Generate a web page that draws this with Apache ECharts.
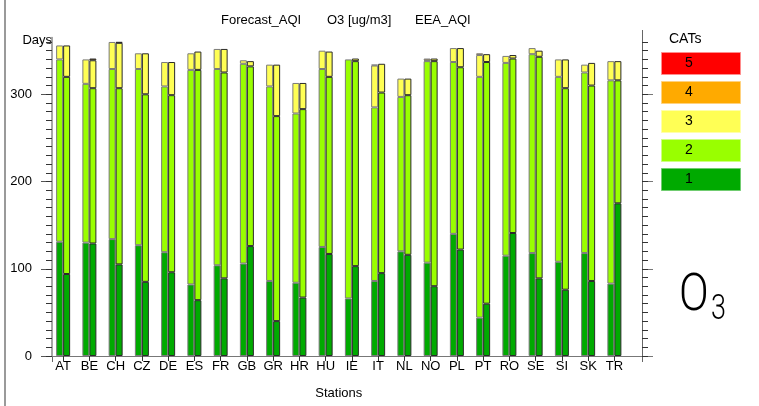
<!DOCTYPE html>
<html>
<head>
<meta charset="utf-8">
<script src="https://cdn.jsdelivr.net/npm/echarts@6/dist/echarts.min.js"></script>
<style>
html,body{margin:0;padding:0;background:#fff;}
#chart{width:759px;height:406px;}
</style>
</head>
<body>
<div id="chart"></div>
<script>
// ---- data ----
const stations = ['AT','BE','CH','CZ','DE','ES','FR','GB','GR','HR','HU','IE','IT','NL','NO','PL','PT','RO','SE','SI','SK','TR'];
// Forecast_AQI (left bar of each pair), days per category
const fcCat1 = [131,130,134,127,119, 82,104,106, 86, 84,125, 66, 86,120,107,140, 44,115,118,108,118, 83];
const fcCat2 = [209,182,195,202,190,246,225,229,223,194,204,274,199,177,231,197,276,221,228,212,207,233];
const fcCat3 = [ 16, 28, 31, 18, 28, 19, 23,  4, 25, 35, 21,  0, 48, 21,  1, 16, 25,  8,  7, 20,  9, 22];
const fcCat4 = [  0,  0,  0,  0,  0,  0,  0,  0,  0,  0,  0,  0,  1,  0,  2,  0,  2,  0,  0,  0,  0,  0];
const fcCat5 = [  0,  0,  0,  0,  0,  0,  0,  0,  0,  0,  0,  0,  0,  0,  0,  0,  0,  0,  0,  0,  0,  0];
// EEA_AQI (right bar of each pair)
const eeaCat1 = [ 94,129,105, 85, 96, 64, 89,126, 40, 67,117,103, 95,116, 80,122, 60,141, 89, 76, 86,175];
const eeaCat2 = [226,178,202,215,203,264,236,206,235,216,203,235,207,183,258,209,277,200,254,231,224,141];
const eeaCat3 = [ 36, 32, 52, 47, 38, 21, 27,  6, 59, 30, 29,  3, 33, 19,  3, 22,  9,  4,  7, 33, 26, 22];
const eeaCat4 = [  0,  2,  1,  0,  0,  0,  0,  0,  0,  0,  0,  0,  0,  0,  0,  0,  0,  0,  0,  0,  0,  0];
const eeaCat5 = [  0,  0,  0,  0,  0,  0,  0,  0,  0,  0,  0,  0,  0,  0,  0,  0,  0,  0,  0,  0,  0,  0];
const catNames = ['1','2','3','4','5'];
const yLabelTicks = [0,100,200,300];
const yMinorTicks = [0,10,20,30,40,50,60,70,80,90,100,110,120,130,140,150,160,170,180,190,200,210,220,230,240,250,260,270,280,290,300,310,320,330,340,350,360];
const titleParts = ['Forecast_AQI','O3 [ug/m3]','EEA_AQI'];

// ---- styles ----
const catColors = ['#00AA00','#99FF00','#FFFF55','#FFAA00','#FF0000'];
const catStroke = ['#70CC70','#CCFF80','#FFFFAA','#FFD27F','#FF8C8C'];
const FONT = 'Liberation Sans';

const fcCats = [fcCat1,fcCat2,fcCat3,fcCat4,fcCat5];
const eeaCats = [eeaCat1,eeaCat2,eeaCat3,eeaCat4,eeaCat5];

function mkSeries(name, stack, arr, color, border){
  return {
    type:'bar', name: name, stack: stack, xAxisIndex:0, yAxisIndex:0,
    data: arr.map(v => v === 0 ? null : v),
    barWidth:7, barGap:'0%',
    itemStyle:{color: color, borderColor: border, borderWidth:1},
    emphasis:{disabled:true}, silent:true
  };
}
const series = [];
fcCats.forEach((a,i)=>series.push(mkSeries('Forecast '+catNames[i],'F',a,catColors[i],'#7a7a7a')));
eeaCats.forEach((a,i)=>series.push(mkSeries('EEA '+catNames[i],'E',a,catColors[i],'#2a2a2a')));

const TOP = 37.6, BOTTOM = 50;
const legendGraphics = [];
legendGraphics.push({type:'text', left:669, top:32, style:{text:'CATs', font:'14px '+FONT, fill:'#000'}});
for (let k=0;k<5;k++){
  const ci = 4-k;
  const y = 52 + k*29;
  legendGraphics.push({type:'rect', shape:{x:661.5,y:y+0.5,width:79,height:22}, style:{fill:catColors[ci], stroke:catStroke[ci], lineWidth:1}});
  legendGraphics.push({type:'text', x:689, y:y+11.5, style:{text:catNames[ci], font:'14px '+FONT, fill:'#000', align:'center', verticalAlign:'middle'}});
}

const chart = echarts.init(document.getElementById('chart'), null, {renderer:'canvas'});
chart.setOption({
  animation:false,
  backgroundColor:'#fff',
  grid:[
    {left:50, top:TOP, bottom:BOTTOM, width:577.5},
    {left:52, top:TOP, bottom:BOTTOM, right:117}
  ],
  xAxis:[
    {type:'category', gridIndex:0, data:stations,
     axisLine:{show:false},
     axisTick:{show:true, alignWithLabel:true, length:5, lineStyle:{color:'#333'}},
     axisLabel:{fontFamily:FONT, fontSize:13, color:'#000', margin:4, interval:0},
     name:'Stations', nameLocation:'middle', nameGap:31,
     nameTextStyle:{fontFamily:FONT, fontSize:13, color:'#000'}},
    {type:'value', gridIndex:1, min:0, max:1, position:'bottom',
     axisLine:{show:true, lineStyle:{color:'#555', width:1}}, axisTick:{show:false}, axisLabel:{show:false}, splitLine:{show:false}},
    {type:'value', gridIndex:1, min:0, max:1, position:'top',
     axisLine:{show:true, lineStyle:{color:'#777', width:1}}, axisTick:{show:false}, axisLabel:{show:false}, splitLine:{show:false}}
  ],
  yAxis:[
    {type:'value', gridIndex:0, min:0, max:365, show:false, splitLine:{show:false}},
    {type:'value', gridIndex:1, min:0, max:365, position:'left', interval:100,
     axisLine:{show:true, lineStyle:{color:'#8a8a8a', width:1.5}},
     axisTick:{show:true, length:11, customValues:yLabelTicks, lineStyle:{color:'#555'}},
     axisLabel:{show:true, customValues:yLabelTicks, fontFamily:FONT, fontSize:13, color:'#000', margin:20},
     splitLine:{show:false}},
    {type:'value', gridIndex:1, min:0, max:365, position:'left', interval:10,
     axisLine:{show:false},
     axisTick:{show:true, length:6, customValues:yMinorTicks, lineStyle:{color:'#333'}},
     axisLabel:{show:false}, splitLine:{show:false}},
    {type:'value', gridIndex:1, min:0, max:365, position:'right', interval:100,
     axisLine:{show:false},
     axisTick:{show:true, length:11, customValues:yLabelTicks, lineStyle:{color:'#777'}},
     axisLabel:{show:false}, splitLine:{show:false}},
    {type:'value', gridIndex:1, min:0, max:365, position:'right', interval:10,
     axisLine:{show:false},
     axisTick:{show:true, length:6, customValues:yMinorTicks, lineStyle:{color:'#333'}},
     axisLabel:{show:false}, splitLine:{show:false}}
  ],
  series: series,
  graphic:[
    {type:'line', shape:{x1:5, y1:0, x2:5, y2:406}, style:{stroke:'#9a9a9a', lineWidth:2}},
    {type:'line', shape:{x1:642.5, y1:30, x2:642.5, y2:362}, style:{stroke:'#666', lineWidth:1}},
    {type:'line', shape:{x1:52.5, y1:356, x2:52.5, y2:362}, style:{stroke:'#666', lineWidth:1}},
    {type:'text', x:221, y:20, style:{text:titleParts[0], font:'13px '+FONT, fill:'#000', verticalAlign:'middle'}},
    {type:'text', x:327, y:20, style:{text:titleParts[1], font:'13px '+FONT, fill:'#000', verticalAlign:'middle'}},
    {type:'text', x:415, y:20, style:{text:titleParts[2], font:'13px '+FONT, fill:'#000', verticalAlign:'middle'}},
    {type:'text', x:52, y:40, style:{text:'Days', font:'13px '+FONT, fill:'#000', align:'right', verticalAlign:'middle'}},
    {type:'text', x:679, y:297.5, scaleX:0.86, style:{text:'O', font:'300 51px Roboto', fill:'#000', verticalAlign:'middle'}},
    {type:'text', x:711, y:310.5, scaleX:0.77, style:{text:'3', font:'300 35px Roboto', fill:'#000', verticalAlign:'middle'}}
  ].concat(legendGraphics)
});
</script>
</body>
</html>
